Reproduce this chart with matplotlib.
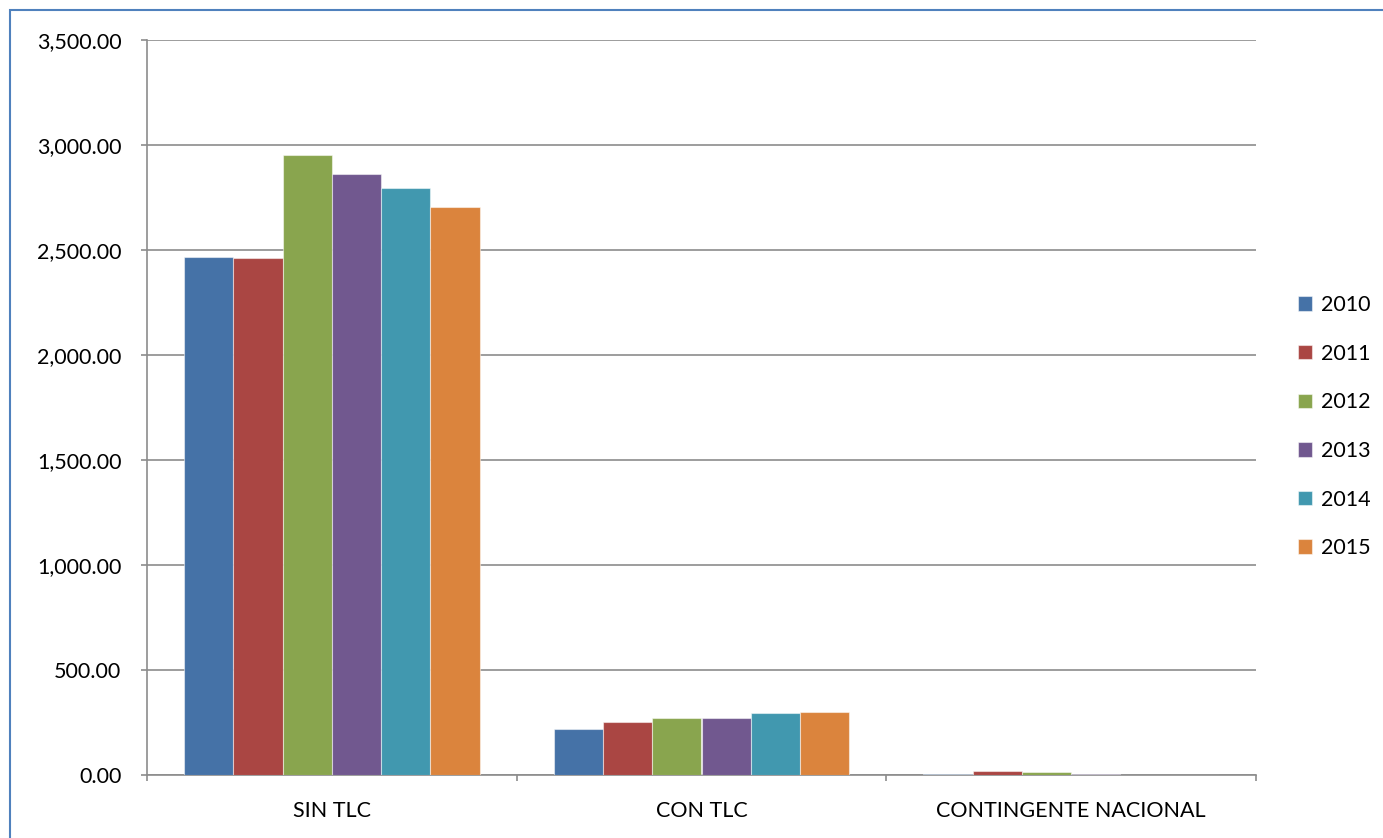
import matplotlib.pyplot as plt
import numpy as np
from matplotlib.patches import Rectangle
from matplotlib.ticker import FuncFormatter

plt.rcParams['font.family'] = ['Lato', 'DejaVu Sans']

categories = ['SIN TLC', 'CON TLC', 'CONTINGENTE NACIONAL']
years = ['2010', '2011', '2012', '2013', '2014', '2015']
v2010 = [2469, 220, 4]
v2011 = [2460, 251, 19]
v2012 = [2952, 271, 12]
v2013 = [2860, 272, 6]
v2014 = [2793, 295, 0]
v2015 = [2705, 300, 0]
series = [v2010, v2011, v2012, v2013, v2014, v2015]
colors = ['#4572A7', '#AA4643', '#89A54E', '#71588F', '#4198AF', '#DB843D']

fig = plt.figure(figsize=(13.83, 8.38), dpi=100)
ax = fig.add_axes([147/1383, 63/838, (1256-147)/1383, (775-40)/838])

x = np.arange(len(categories))
w = 0.8 / len(series)
for i, (vals, c) in enumerate(zip(series, colors)):
    ax.bar(x - 0.4 + w*(i+0.5), vals, width=w, color=c, label=years[i],
           edgecolor=(1, 1, 1, 0.5), linewidth=0.8, zorder=3)

fs = 15.5
ax.set_xlim(-0.5, 2.5)
ax.set_ylim(0, 3500)
ax.set_yticks(np.arange(0, 3501, 500))
ax.yaxis.set_major_formatter(FuncFormatter(lambda v, p: f'{v:,.2f}'))
ax.yaxis.grid(True, color='#8c8c8c', linewidth=1.2, zorder=0)
ax.set_xticks([-0.5, 0.5, 1.5, 2.5])
ax.set_xticklabels([])
ax.set_xticks(x, minor=True)
ax.set_xticklabels(categories, minor=True)
ax.tick_params(axis='x', which='minor', length=0, pad=19, labelsize=fs)
ax.tick_params(axis='x', which='major', length=4.5, color='#8c8c8c', width=1.2)
ax.tick_params(axis='y', length=4.5, color='#8c8c8c', width=1.2, labelsize=fs, pad=14)
for s in ['top', 'right']:
    ax.spines[s].set_visible(False)
for s in ['left', 'bottom']:
    ax.spines[s].set_color('#8c8c8c')
    ax.spines[s].set_linewidth(1.2)

leg = ax.legend(loc='center left', bbox_to_anchor=(1.028, 0.474), frameon=False,
                fontsize=fs, handlelength=0.65, handleheight=0.65, borderpad=0,
                handletextpad=0.45, labelspacing=1.33)

fig.patches.append(Rectangle((10/1383, -0.1), 1.2, 1.1 - 10.5/838,
                             transform=fig.transFigure, fill=False,
                             edgecolor='#4f81bd', linewidth=1.5))

fig.savefig('out.png', dpi=100)
